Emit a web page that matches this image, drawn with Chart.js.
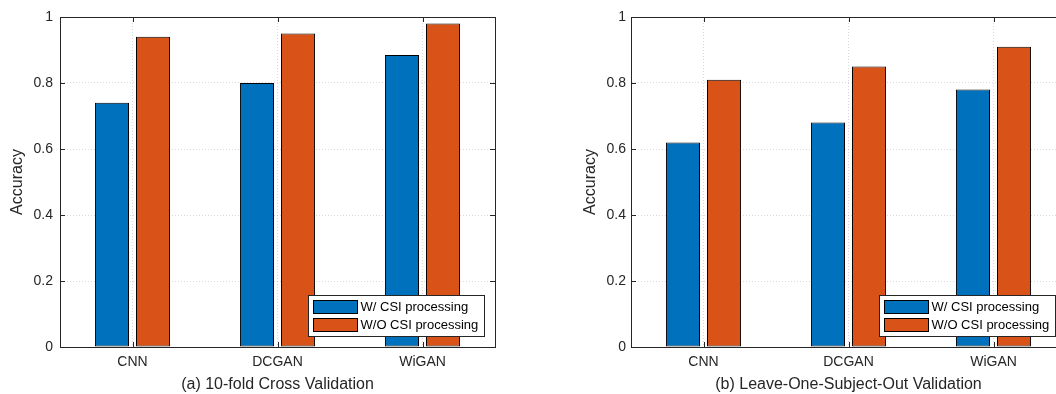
<!DOCTYPE html>
<html>
<head>
<meta charset="utf-8">
<script src="https://cdn.jsdelivr.net/npm/chart.js@4"></script>
<style>
  body { margin: 0; background: #fff; overflow: hidden; width: 1056px; height: 394px; position: relative; }
  canvas { position: absolute; top: 0; }
</style>
</head>
<body>
<canvas id="chartA" width="530" height="394" style="left:0px"></canvas>
<canvas id="chartB" width="530" height="394" style="left:540px"></canvas>
<script>
// data
const categories = ['CNN', 'DCGAN', 'WiGAN'];
const seriesNames = ['W/ CSI processing', 'W/O CSI processing'];
const crossWith = [0.74, 0.80, 0.885];
const crossWithout = [0.94, 0.95, 0.98];
const losoWith = [0.62, 0.68, 0.78];
const losoWithout = [0.81, 0.85, 0.91];
const yTicks = [0, 0.2, 0.4, 0.6, 0.8, 1];

const blue = '#0072BD';
const orange = '#D95319';
const ink = '#262626';
const fontFam = '"Liberation Sans", Arial, Helvetica, sans-serif';

// box around the axes, inward tick marks and the legend inside the plot
const matlabAxes = {
    id: 'matlabAxes',
    afterDatasetsDraw(chart) {
        const { ctx, chartArea: a, scales } = chart;
        ctx.save();
        ctx.strokeStyle = ink;
        ctx.lineWidth = 1;
        ctx.beginPath();
        yTicks.forEach(v => {
            const y = Math.round(scales.y.getPixelForValue(v)) + 0.5;
            ctx.moveTo(a.left, y); ctx.lineTo(a.left + 5, y);
            ctx.moveTo(a.right, y); ctx.lineTo(a.right - 5, y);
        });
        categories.forEach((c, i) => {
            const x = Math.round(scales.x.getPixelForValue(i)) + 0.5;
            ctx.moveTo(x, a.bottom); ctx.lineTo(x, a.bottom - 5);
            ctx.moveTo(x, a.top); ctx.lineTo(x, a.top + 5);
        });
        ctx.stroke();
        ctx.strokeRect(Math.round(a.left) + 0.5, Math.round(a.top) + 0.5,
            Math.round(a.right - a.left), Math.round(a.bottom - a.top));

        // legend
        const w = 176, h = 41;
        const bx = Math.round(a.right - 11 - w) + 0.5;
        const by = Math.round(a.bottom - 11 - h) + 0.5;
        ctx.fillStyle = '#fff';
        ctx.fillRect(bx, by, w, h);
        ctx.strokeStyle = ink;
        ctx.strokeRect(bx, by, w, h);
        ctx.font = '13px ' + fontFam;
        ctx.textBaseline = 'middle';
        chart.data.datasets.forEach((ds, i) => {
            const ry = by + 5 + i * 18;
            ctx.fillStyle = ds.backgroundColor;
            ctx.fillRect(bx + 5, ry, 44, 13);
            ctx.strokeStyle = '#000';
            ctx.strokeRect(bx + 5, ry, 44, 13);
            ctx.fillStyle = '#000';
            ctx.fillText(ds.label, bx + 52, ry + 7);
        });
        ctx.restore();
    }
};

function makeChart(id, withVals, withoutVals, title, padLeft, yWidth, tickPad) {
    return new Chart(document.getElementById(id), {
        type: 'bar',
        data: {
            labels: categories,
            datasets: [
                { label: seriesNames[0], data: withVals, backgroundColor: blue },
                { label: seriesNames[1], data: withoutVals, backgroundColor: orange }
            ]
        },
        options: {
            responsive: false,
            animation: false,
            devicePixelRatio: 1,
            layout: { padding: { top: 17, right: 530 - padLeft - yWidth - 435, bottom: 0, left: padLeft } },
            datasets: {
                bar: {
                    borderColor: '#000',
                    borderWidth: 1,
                    borderSkipped: false,
                    categoryPercentage: 0.566,
                    barPercentage: 0.83
                }
            },
            plugins: {
                legend: { display: false },
                tooltip: { enabled: false }
            },
            scales: {
                x: {
                    afterFit: s => { s.height = 47; },
                    grid: {
                        offset: false,
                        drawTicks: false,
                        color: 'rgba(38,38,38,0.18)'
                    },
                    border: { color: ink, dash: [1, 2], display: true },
                    ticks: { color: ink, padding: 7, font: { family: fontFam, size: 14 } },
                    title: {
                        display: true,
                        text: title,
                        color: ink,
                        padding: { top: 0, bottom: 0 },
                        font: { family: fontFam, size: 16 }
                    }
                },
                y: {
                    min: 0,
                    max: 1,
                    afterFit: s => { s.width = yWidth; },
                    afterBuildTicks: s => { s.ticks = yTicks.map(v => ({ value: v })); },
                    grid: { drawTicks: false, color: 'rgba(38,38,38,0.18)' },
                    border: { color: ink, dash: [1, 2] },
                    ticks: {
                        color: ink,
                        padding: tickPad,
                        font: { family: fontFam, size: 14 },
                        callback: v => String(v)
                    },
                    title: {
                        display: true,
                        text: 'Accuracy',
                        color: ink,
                        padding: { top: 8, bottom: 0 },
                        font: { family: fontFam, size: 16 }
                    }
                }
            }
        },
        plugins: [matlabAxes]
    });
}

makeChart('chartA', crossWith, crossWithout, '(a) 10-fold Cross Validation', 0, 60, 7);
makeChart('chartB', losoWith, losoWithout, '(b) Leave-One-Subject-Out Validation', 33, 58, 5);
</script>
</body>
</html>
